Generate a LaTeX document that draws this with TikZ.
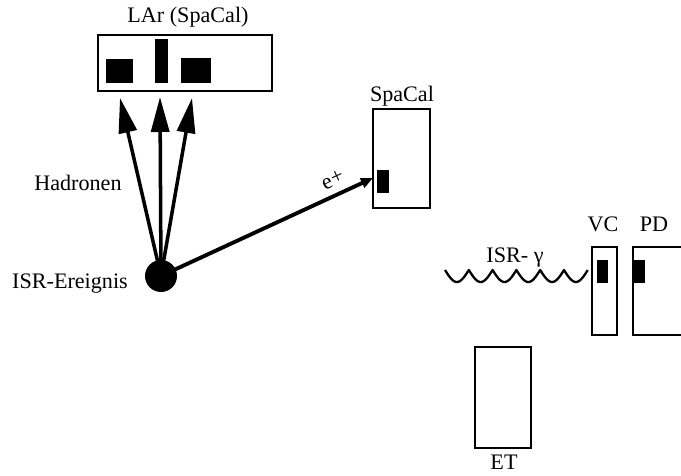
\documentclass[tikz,border=0pt]{standalone}
\usepackage{fontspec}
\setmainfont{Liberation Serif}
\usepackage{tikz}
\usetikzlibrary{arrows.meta,positioning,calc}

\begin{document}
\begin{tikzpicture}[x=0.02cm,y=-0.02cm,
	font=\fontsize{12.6}{15}\selectfont,
	box/.style={draw,line width=1.2pt,inner sep=0pt},
	blk/.style={fill=black,inner sep=0pt},
	lbl/.style={inner sep=0pt,anchor=base},
	trk/.style={line width=2pt,-{Triangle[length=0.7cm,width=0.36cm]}}]
	\useasboundingbox (0,0) rectangle (681,476);
	% LAr calorimeter with the three hadron showers
	\node[box,minimum width=3.48cm,minimum height=1.12cm] (lar) at (185,63) {};
	\node[blk,minimum width=0.54cm,minimum height=0.48cm] (larA) at (119.5,71) {};
	\node[blk,minimum width=0.26cm,minimum height=0.88cm] (larB) at (161.5,61) {};
	\node[blk,minimum width=0.6cm,minimum height=0.5cm] (larC) at (196,70.5) {};
	\node[lbl] (larlbl) at (188,23) {LAr (SpaCal)};
	% backward SpaCal
	\node[box,minimum width=1.14cm,minimum height=1.98cm] (spacal) at (401.5,158.5) {};
	\node[blk,minimum width=0.24cm,minimum height=0.46cm] (spahit) at (383,181.5) {};
	\node[lbl] (spalbl) at (402,102) {SpaCal};
	% event vertex
	\node[circle,fill=black,minimum size=0.64cm,inner sep=0pt] (evt) at (161,276) {};
	\node[lbl] (evtlbl) at (70,289) {ISR-Ereignis};
	\node[lbl] (hadlbl) at (78,191) {Hadronen};
	\coordinate (tA) at (120,98);
	\coordinate (tB) at (160,97);
	\coordinate (tC) at (192,98);
	\coordinate (ehit) at (373,178);
	\foreach \t in {tA,tB,tC}
		\draw[trk] (evt.center) -- (\t);
	\draw[line width=2.2pt,-{Triangle[length=0.24cm,width=0.2cm]}] (evt.center) -- (ehit)
		node[pos=0.84,above=4pt,sloped,inner sep=0pt] (elbl) {e+};
	% photon detectors
	\node[box,minimum width=0.5cm,minimum height=1.76cm] (vc) at (604.5,291) {};
	\node[blk,minimum width=0.22cm,minimum height=0.46cm] (vchit) at (602.5,271.5) {};
	\node[lbl] (vclbl) at (603,232) {VC};
	\node[box,minimum width=1.34cm,minimum height=1.76cm] (pd) at (666.5,291) {};
	\node[blk,minimum width=0.24cm,minimum height=0.46cm] (pdhit) at (639,271.5) {};
	\node[lbl] (pdlbl) at (654,232) {PD};
	\node[box,minimum width=1.12cm,minimum height=2.02cm] (et) at (503,397.5) {};
	\node[lbl] (etlbl) at (504,470) {ET};
	% ISR photon
	\coordinate (gstart) at (445,270);
	\draw[line width=1.3pt,line join=round] (gstart)
		plot[domain=0:6,samples=181] ({445+23.8*\x},{270+12*abs(sin(180*\x))});
	\node[lbl] (glbl) at (515,263) {ISR- γ};
\end{tikzpicture}
\end{document}
